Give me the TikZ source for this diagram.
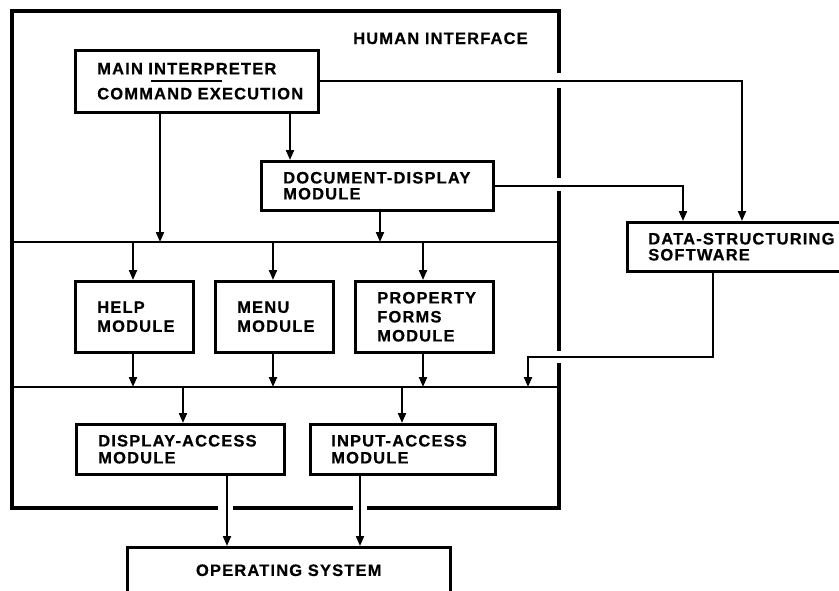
\documentclass[tikz,border=0pt]{standalone}
\usepackage{fontspec}
\newfontfamily\lab{Liberation Sans}[LetterSpace=7,FakeBold=0.6]
\usetikzlibrary{arrows.meta}
\begin{document}
\begin{tikzpicture}[x=1pt,y=-1pt,
  lbl/.style={font=\lab\bfseries\fontsize{16.5}{#1}\selectfont},
  box/.style={draw, line width=2.5pt, anchor=north west, inner xsep=22pt, inner ysep=0pt, align=left},
  arr/.style={line width=2pt, -{Triangle[length=10pt,width=8pt]}},
  frame/.style={line width=3.2pt},
  divider/.style={line width=2.4pt}]
\useasboundingbox (0,0) rectangle (839,590);
\clip (0,0) rectangle (839,590);
% outer frame
\draw[frame] (559,73) -- (559,11) -- (12,11) -- (12,508) -- (218,508);
\draw[frame] (233,508) -- (353,508);
\draw[frame] (367,508) -- (559,508) -- (559,363);
\draw[frame] (559,88) -- (559,178);
\draw[frame] (559,191) -- (559,351);
\coordinate (d1L) at (12,242); \coordinate (d1R) at (559,242);
\coordinate (d2L) at (12,387); \coordinate (d2R) at (559,387);
\draw[divider] (d1L) -- (d1R);
\draw[divider] (d2L) -- (d2R);
\node[lbl=16, anchor=base west, inner sep=0pt] (hi) at (353,44) {HUMAN INTERFACE};
% boxes
\node[box, lbl=25, minimum width=243pt, minimum height=62pt, text width=199pt, yshift=0pt] (main) at (74,49) {\raisebox{-2pt}{MAIN INTERPRETER}\\[0pt]\raisebox{-2pt}{COMMAND EXECUTION}};
\node[box, lbl=16, minimum width=232pt, minimum height=49pt, text width=188pt] (doc) at (260,160) {DOCUMENT-DISPLAY\\MODULE};
\node[box, lbl=16, minimum height=49pt, text width=200pt, inner xsep=21pt] (data) at (626,221) {DATA-STRUCTURING\\SOFTWARE};
\node[box, lbl=19, minimum width=118pt, minimum height=71pt, text width=74pt] (help) at (74,280) {HELP\\MODULE};
\node[box, lbl=19, minimum width=118pt, minimum height=71pt, text width=74pt] (menu) at (214,280) {MENU\\MODULE};
\node[box, lbl=19, minimum width=138pt, minimum height=71pt, text width=94pt] (prop) at (354,280) {PROPERTY\\FORMS\\MODULE};
\node[box, lbl=17, minimum width=208pt, minimum height=50pt, text width=164pt] (disp) at (75,423) {DISPLAY-ACCESS\\MODULE};
\node[box, lbl=17, minimum width=185pt, minimum height=50pt, text width=143pt, inner xsep=21pt] (inp) at (309,423) {INPUT-ACCESS\\MODULE};
\node[draw, line width=2.5pt, anchor=north west, minimum width=323pt, minimum height=46pt, lbl=16, inner sep=0pt] (os) at (126,546) {OPERATING SYSTEM};
% underline
\coordinate (u1) at (151,81); \coordinate (u2) at (222,81);
\draw[line width=1.6pt] (u1) -- (u2);
% column coordinates
\path (160,0) coordinate (c1) (290,0) coordinate (c2) (380,0) coordinate (c3)
      (133,0) coordinate (c4) (273,0) coordinate (c5) (423,0) coordinate (c6)
      (183,0) coordinate (c7) (402,0) coordinate (c8) (227,0) coordinate (c9)
      (360,0) coordinate (c10) (683,0) coordinate (c12) (742,0) coordinate (c13)
      (713,0) coordinate (c14) (528,357) coordinate (j);
% connectors
\draw[arr] (main.south -| c2) -- (doc.north -| c2);
\draw[arr] (main.south -| c1) -- (d1L -| c1);
\draw[arr] (doc.south -| c3) -- (d1L -| c3);
\draw[arr] (main.east) -| (data.north -| c13);
\draw[arr] (doc.east) -| (data.north -| c12);
\draw[arr] (d1L -| c4) -- (help.north -| c4);
\draw[arr] (d1L -| c5) -- (menu.north -| c5);
\draw[arr] (d1L -| c6) -- (prop.north -| c6);
\draw[arr] (help.south -| c4) -- (d2L -| c4);
\draw[arr] (menu.south -| c5) -- (d2L -| c5);
\draw[arr] (prop.south -| c6) -- (d2L -| c6);
\draw[arr] (data.south -| c14) |- (j) -- (d2L -| j);
\draw[arr] (d2L -| c7) -- (disp.north -| c7);
\draw[arr] (d2L -| c8) -- (inp.north -| c8);
\draw[arr] (disp.south -| c9) -- (os.north -| c9);
\draw[arr] (inp.south -| c10) -- (os.north -| c10);
\end{tikzpicture}
\end{document}
